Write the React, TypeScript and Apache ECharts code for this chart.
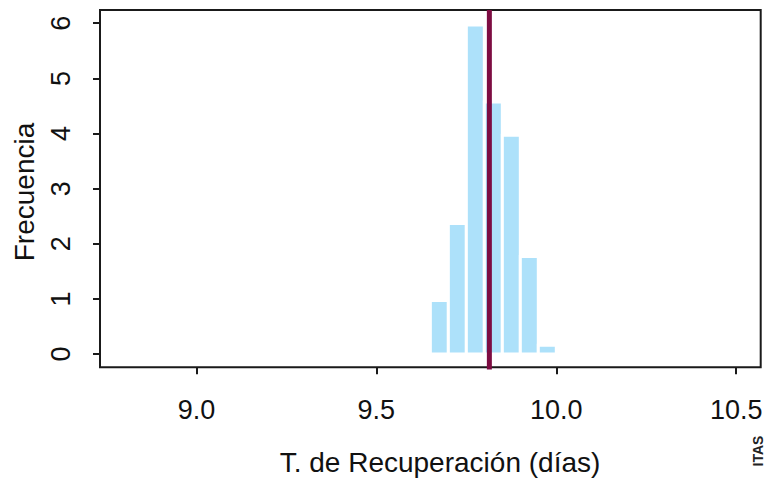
import React, { useEffect, useRef } from "react";
import * as echarts from "echarts";

// Histogram bins (lower / upper edges) and frequencies
const binStarts = [9.65, 9.7, 9.75, 9.8, 9.85, 9.9, 9.95];
const binEnds = [9.7, 9.75, 9.8, 9.85, 9.9, 9.95, 10.0];
const frequencies = [0.97, 2.37, 5.97, 4.57, 3.97, 1.77, 0.16];
const meanValue = 9.814;
const xTicks = [9.0, 9.5, 10.0, 10.5];
const yTicks = [0, 1, 2, 3, 4, 5, 6];
const xLabel = "T. de Recuperación (días)";
const yLabel = "Frecuencia";

const FONT = '"Liberation Sans", Arial, Helvetica, sans-serif';

export default function App() {
  const ref = useRef<HTMLDivElement>(null);
  useEffect(() => {
    if (!ref.current) return;
    const chart = echarts.init(ref.current, undefined, { renderer: "svg" });
    const barData = binStarts.map((s, i) => [s, binEnds[i], frequencies[i]]);
    chart.setOption({
      animation: false,
      backgroundColor: "#ffffff",
      grid: {
        left: 100,
        top: 10,
        width: 660.7,
        height: 357.3,
        show: true,
        borderColor: "#1a1a1a",
        borderWidth: 2,
        backgroundColor: "transparent",
      },
      xAxis: {
        type: "value",
        min: 8.732,
        max: 10.568,
        axisLine: { show: false, onZero: false },
        splitLine: { show: false },
        axisTick: {
          show: true,
          inside: false,
          length: 7,
          customValues: xTicks,
          lineStyle: { color: "#1a1a1a", width: 2 },
        },
        axisLabel: {
          show: true,
          customValues: xTicks,
          margin: 29,
          color: "#111",
          fontSize: 27,
          fontFamily: FONT,
          formatter: (v: number) => v.toFixed(1),
        },
      },
      yAxis: {
        type: "value",
        min: -0.24,
        max: 6.24,
        axisLine: { show: false, onZero: false },
        splitLine: { show: false },
        axisTick: {
          show: true,
          inside: false,
          length: 7,
          customValues: yTicks,
          lineStyle: { color: "#1a1a1a", width: 2 },
        },
        axisLabel: {
          show: true,
          customValues: yTicks,
          rotate: 90,
          margin: 26,
          color: "#111",
          fontSize: 27,
          fontFamily: FONT,
          formatter: (v: number) => String(Math.round(v)),
        },
      },
      series: [
        {
          type: "custom",
          data: barData,
          renderItem: (params: any, api: any) => {
            const p0 = api.coord([api.value(0), 0]);
            const p1 = api.coord([api.value(1), api.value(2)]);
            return {
              type: "rect",
              shape: {
                x: p0[0],
                y: p1[1],
                width: p1[0] - p0[0],
                height: p0[1] - p1[1],
              },
              style: { fill: "#ade1fa", stroke: "#ffffff", lineWidth: 3 },
            };
          },
        },
        {
          type: "line",
          data: [
            [meanValue, -0.28],
            [meanValue, 6.24],
          ],
          symbol: "none",
          clip: false,
          lineStyle: { color: "#7d0c42", width: 5 },
        },
      ],
      graphic: [
        {
          type: "text",
          x: 440,
          y: 462,
          style: {
            text: xLabel,
            fontSize: 28,
            fontFamily: FONT,
            fill: "#111",
            textAlign: "center",
            textVerticalAlign: "middle",
          },
        },
        {
          type: "text",
          x: 24,
          y: 192,
          rotation: Math.PI / 2,
          style: {
            text: yLabel,
            fontSize: 28,
            fontFamily: FONT,
            fill: "#111",
            textAlign: "center",
            textVerticalAlign: "middle",
          },
        },
        {
          type: "text",
          x: 758,
          y: 451,
          rotation: Math.PI / 2,
          style: {
            text: "ITAS",
            fontSize: 14,
            fontWeight: "bold",
            fontFamily: FONT,
            fill: "#222",
            textAlign: "center",
            textVerticalAlign: "middle",
          },
        },
      ],
    });
    return () => chart.dispose();
  }, []);
  return (
    <div
      ref={ref}
      style={{ position: "fixed", left: 0, top: 0, width: 767, height: 478 }}
    />
  );
}
